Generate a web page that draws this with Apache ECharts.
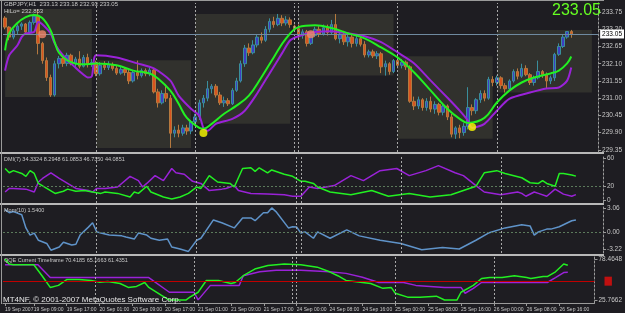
<!DOCTYPE html>
<html>
<head>
<meta charset="utf-8">
<script src="https://cdn.jsdelivr.net/npm/echarts@6/dist/echarts.min.js"></script>
<style>
html, body { margin: 0; padding: 0; background: #1e1d22; }
#main { width: 625px; height: 313px; }
</style>
</head>
<body>
<div id="main"></div>
<script>
// hourly bars, 19 Sep 02:00 .. 26 Sep 18:00 (+ empty slots to end of day)
var barCount = 144;
var tickIdx = [0, 7, 15, 23, 31, 39, 47, 55, 63, 71, 79, 87, 95, 103, 111, 119, 127, 135];
var tickText = ['19 Sep 2007', '19 Sep 09:00', '19 Sep 17:00', '20 Sep 01:00', '20 Sep 09:00', '20 Sep 17:00',
    '21 Sep 01:00', '21 Sep 09:00', '21 Sep 17:00', '24 Sep 00:00', '24 Sep 08:00', '24 Sep 16:00',
    '25 Sep 00:00', '25 Sep 08:00', '25 Sep 16:00', '26 Sep 00:00', '26 Sep 08:00', '26 Sep 16:00'];
var dayStarts = [22, 46, 70, 71, 95, 119];

// [open, close, low, high]
var day19 = [[233.56,233.27,233.20,233.62],[233.27,232.95,232.85,233.30],[232.95,233.15,232.88,233.22],[233.15,233.30,233.05,233.36],
    [233.30,233.37,233.18,233.42],[233.37,233.11,233.05,233.40],[233.11,233.42,233.08,233.48],[233.42,233.62,233.35,233.70],
    [233.62,232.75,232.40,233.84],[232.75,232.20,232.10,232.80],[232.20,231.66,231.55,232.30],[231.66,231.10,231.04,231.75],
    [231.10,232.10,231.05,232.20],[232.10,232.27,231.95,232.35],[232.27,232.11,232.00,232.38],[232.11,232.37,232.02,232.45],
    [232.37,232.10,232.05,232.42],[232.10,232.25,232.00,232.32],[232.25,232.02,231.95,232.50],[232.02,232.30,231.98,232.38],
    [232.30,232.08,231.98,232.42],[232.08,232.14,232.00,232.25]];
var day20 = [[232.14,231.78,231.70,232.20],[231.78,232.05,231.72,232.15],[232.05,231.98,231.90,232.18],[231.98,232.08,231.90,232.18],
    [232.08,231.95,231.88,232.14],[231.95,231.80,231.74,232.06],[231.80,231.92,231.75,232.00],[231.92,231.82,231.72,231.98],
    [231.82,231.55,231.45,231.92],[231.55,231.82,231.50,231.88],[231.82,231.72,231.60,232.20],[231.72,231.88,231.66,231.95],
    [231.88,231.78,231.70,231.95],[231.78,231.90,231.70,231.98],[231.90,231.20,231.15,231.95],[231.20,230.85,230.70,231.30],
    [230.85,231.15,230.80,231.25],[231.15,231.00,230.88,231.40],[231.00,229.88,229.41,231.10],[229.88,229.98,229.75,230.10],
    [229.98,229.88,229.75,230.15],[229.88,230.05,229.80,230.15],[230.05,229.95,229.83,230.15],[229.95,230.25,229.85,230.30]];
var day21 = [[230.25,230.40,230.18,230.50],[230.40,230.85,230.30,230.95],[230.85,231.00,230.70,231.10],[231.00,231.30,230.90,231.55],
    [231.30,231.38,231.15,231.45],[231.38,231.10,231.02,231.45],[231.10,230.85,230.78,231.20],[230.85,230.92,230.72,231.05],
    [230.92,230.82,230.75,231.00],[230.82,231.25,230.78,231.32],[231.25,231.55,231.20,231.65],[231.55,232.10,231.50,232.20],
    [232.10,232.60,232.00,232.70],[232.60,232.45,232.35,232.75],[232.45,232.70,232.40,232.85],[232.70,232.95,232.62,233.05],
    [232.95,232.85,232.75,233.10],[232.85,233.20,232.80,233.30],[233.20,233.45,233.10,233.55],[233.45,233.35,233.25,233.60],
    [233.35,233.55,233.30,233.69],[233.55,233.40,233.30,233.65],[233.40,233.50,233.32,233.62],[233.50,233.35,233.25,233.58]];
var sun23 = [[233.30,233.22,233.12,233.35]];
var day24 = [[233.22,233.00,232.90,233.35],[233.00,233.12,232.90,233.20],[233.12,232.75,232.65,233.18],[232.75,233.00,232.70,233.10],
    [233.00,233.20,232.95,233.28],[233.20,233.05,232.95,233.30],[233.05,233.25,233.00,233.35],[233.25,233.10,233.00,233.35],
    [233.10,233.35,233.05,233.50],[233.35,232.90,232.85,233.69],[232.90,233.05,232.75,233.15],[233.05,232.80,232.70,233.15],
    [232.80,232.95,232.65,233.05],[232.95,232.75,232.62,233.05],[232.75,232.90,232.65,233.00],[232.90,232.72,232.65,233.00],
    [232.72,232.38,232.30,232.82],[232.38,232.48,232.30,232.55],[232.48,232.35,232.28,232.55],[232.35,232.42,232.25,232.50],
    [232.42,232.00,231.80,232.48],[232.00,232.10,231.72,232.20],[232.10,231.85,231.75,232.15],[231.85,232.20,231.80,232.25]];
var day25 = [[232.20,232.05,231.95,232.34],[232.05,232.15,231.95,232.25],[232.15,232.00,231.90,232.20],[232.00,230.90,230.85,232.05],
    [230.90,230.75,230.62,231.05],[230.75,230.95,230.65,231.05],[230.95,230.70,230.60,231.00],[230.70,230.90,230.60,231.00],
    [230.90,230.65,230.55,231.05],[230.65,230.80,230.50,230.90],[230.80,230.55,230.45,230.85],[230.55,230.75,230.45,230.85],
    [230.75,230.40,230.30,230.80],[230.40,229.85,229.75,230.50],[229.85,230.05,229.70,230.10],[230.05,229.90,229.72,230.15],
    [229.90,230.10,229.80,230.20],[230.10,230.70,230.00,231.35],[230.70,230.60,230.45,230.80],[230.60,230.95,230.50,231.00],
    [230.95,231.15,230.85,231.25],[231.15,231.00,230.90,231.25],[231.00,231.60,230.95,231.68],[231.60,231.50,231.38,231.70]];
var day26 = [[231.50,231.65,231.40,231.72],[231.65,231.40,231.30,231.70],[231.40,231.30,231.18,231.48],[231.30,231.55,231.25,231.60],
    [231.55,231.85,231.50,231.92],[231.85,231.70,231.60,231.95],[231.70,231.95,231.65,232.10],[231.95,231.75,231.70,232.05],
    [231.75,231.50,231.42,231.80],[231.50,231.65,231.40,231.72],[231.65,231.85,231.60,232.20],[231.85,231.75,231.65,231.90],
    [231.75,231.55,231.30,231.82],[231.55,231.65,231.45,231.72],[231.65,232.40,231.55,232.45],[232.40,232.65,232.35,232.75],
    [232.65,232.95,232.60,233.05],[232.95,233.13,232.90,233.14],[233.13,233.05,232.93,233.18]];

// daily high/low boxes
var boxStart = [0, 22, 46, 71, 95, 119];
var boxEnd = [21, 45, 69, 94, 118, 142];
var boxHigh = [233.85, 232.21, 233.69, 233.69, 232.34, 233.18];
var boxLow = [231.04, 229.41, 230.18, 231.72, 229.70, 231.18];

// [bar, price]
var maFast = [[0,232.53],[1,233.07],[3,233.40],[5,233.59],[7,233.66],[9,233.56],[11,233.17],[12,232.79],[13,232.46],[15,232.21],
    [17,232.11],[19,232.08],[22,232.11],[27,232.05],[31,231.88],[35,231.79],[37,231.63],[40,231.24],[42,230.82],[44,230.37],
    [47,230.05],[48,230.02],[50,230.18],[53,230.50],[56,230.76],[59,231.08],[62,231.66],[65,232.30],[68,232.91],[71,233.27],
    [75,233.33],[79,233.24],[83,233.07],[87,232.91],[91,232.62],[95,232.30],[99,231.82],[103,231.24],[107,230.66],[110,230.34],
    [112,230.21],[116,230.37],[119,230.86],[122,231.24],[125,231.50],[128,231.66],[132,231.79],[134,231.88],[136,232.11],[137,232.33]];
var maSlow = [[0,231.88],[1,232.37],[3,232.69],[4,232.95],[5,233.07],[7,233.11],[8,233.43],[9,233.36],[11,233.07],[12,232.75],
    [14,232.37],[17,231.98],[19,231.75],[20,231.66],[21,231.70],[22,232.37],[27,232.30],[32,232.11],[36,231.95],[40,231.56],
    [42,231.08],[45,230.66],[47,230.44],[48,230.05],[49,229.96],[51,230.18],[55,230.34],[58,230.60],[61,231.15],[64,231.79],
    [67,232.43],[69,232.85],[71,232.98],[75,233.11],[79,233.14],[83,233.07],[87,232.98],[91,232.79],[95,232.46],[99,232.11],
    [103,231.56],[107,231.02],[110,230.60],[112,230.28],[113,230.05],[116,230.18],[119,230.60],[122,230.98],[127,231.18],
    [131,231.31],[134,231.34],[136,231.56],[137,231.98]];
var peakDots = [[9, 233.04], [74, 233.04]];
var troughDots = [[48, 229.89], [113, 230.08]];

var dmiPlus = [[0,45],[1,39],[2,42],[4,38],[5,34],[6,42],[7,38],[8,24],[10,17],[12,10],[14,13],[15,16],[17,13],[19,14],[21,12],
    [23,10],[24,12],[27,10],[30,5],[31,12],[32,10],[34,20],[35,12],[38,5],[40,2],[42,5],[44,10],[46,19],[47,17],[49,35],
    [51,26],[54,24],[55,19],[57,45],[59,46],[60,41],[61,46],[63,39],[64,43],[67,37],[69,34],[71,27],[72,27],[74,24],[75,19],
    [78,12],[83,8],[88,14],[92,6],[97,10],[102,5],[107,8],[110,14],[113,20],[115,39],[118,42],[120,38],[124,32],[126,25],
    [128,24],[129,28],[130,24],[132,20],[133,38],[134,38],[136,36],[137,34.3]];
var dmiMinus = [[0,12],[1,17],[2,17],[5,16],[7,12],[8,26],[9,31],[11,39],[13,31],[15,24],[17,17],[20,14],[21,12],[22,17],
    [24,17],[27,19],[30,34],[32,28],[33,19],[34,24],[36,35],[38,28],[40,45],[41,39],[43,37],[45,27],[47,24],[49,14],[52,16],
    [53,17],[55,21],[56,14],[59,10],[63,9],[67,8],[69,6],[71,6],[73,19],[75,17],[79,21],[83,35],[86,28],[90,42],[94,45],
    [97,35],[101,42],[104,49],[108,39],[110,35],[113,21],[115,12],[119,8],[123,12],[124,10],[125,6],[127,12],[128,10],
    [130,6],[132,16],[134,9],[136,6],[137,8.3]];
var momVals = [[0,2.85],[1,2.45],[2,2.6],[4,2.2],[5,0.55],[6,-0.35],[7,-0.1],[8,-1.0],[10,-1.4],[11,-2.25],[13,-1.85],
    [14,-1.25],[16,-1.6],[17,-1.5],[18,-0.35],[20,0.65],[21,1.2],[22,0.05],[23,-0.1],[25,-0.35],[28,-0.45],[29,-0.6],
    [31,-0.85],[32,-0.1],[34,-0.35],[35,-0.75],[37,-1.0],[39,-0.85],[40,-1.85],[42,-2.1],[44,-2.4],[46,-1.0],[47,-0.75],
    [50,1.55],[52,1.2],[55,0.55],[57,1.8],[59,1.8],[60,1.45],[62,2.45],[63,2.45],[64,3.06],[65,2.6],[68,0.55],[69,0.7],
    [70,0.65],[71,-0.1],[72,0.05],[74,-0.75],[75,0.05],[78,-0.75],[82,0.3],[85,-0.45],[90,-1.0],[95,-1.4],[100,-2.2],
    [105,-1.9],[109,-2.1],[113,-1.0],[116,-0.1],[120,0.55],[124,0.95],[126,0.8],[127,-0.35],[128,0.05],[130,0.4],
    [131,0.4],[133,0.7],[135,1.2],[136,1.45],[137,1.54]];
var qqeFast = [[0,78.5],[1,72],[2,71],[7,71],[9,57],[11,42],[13,44.6],[15,52],[18,52],[21,51],[23,48.5],[25,49.6],[28,47],
    [30,42],[32,43.3],[34,48.3],[35,42],[38,32],[40,25.8],[44,25.8],[45,29.5],[47,35.8],[49,50.9],[52,50.9],[55,47],
    [56,48.3],[58,57],[61,66],[64,70],[68,72],[72,71],[76,68],[79,62],[81,57],[83,51],[89,47],[92,40.8],[94,42],[95,34.5],
    [98,29.5],[101,29.5],[105,30.8],[107,25.8],[110,25.8],[111,35.8],[114,44.6],[116,53.4],[118,54.6],[121,54.6],[124,57],
    [127,54.6],[128,53.4],[131,55.9],[132,55.9],[134,62],[136,72],[137,70.4]];
var qqeSlow = [[0,71],[8,71],[11,54.6],[35,54.6],[40,35.8],[46,35.8],[47,26],[50,44.6],[57,44.6],[58,57],[62,62],[66,64],
    [72,64],[79,62],[83,60],[87,55],[91,48.3],[97,48.3],[100,44.6],[107,42],[111,42],[112,34.5],[114,40.8],[116,48.3],
    [132,48.3],[134,54.6],[136,61],[137,61.4]];

var priceTicks = [229.35, 229.90, 230.45, 231.00, 231.55, 232.10, 232.65, 233.20, 233.75];
var dmiTicks = [60, 20, 0];
var momTickVals = [3.06, 0, -2.1];
var momTickText = ['3.06', '0.00', '-3.22'];
var qqeTicks = [78.4648, 25.7662];
var lastPrice = 233.05;

var candles = [].concat(day19, day20, day21, sun23, day24, day25, day26);
var cats = [];
for (var i = 0; i < barCount; i++) cats.push(String(i));

var font = 'Liberation Sans';
var labelColor = '#c8c8c8';
var showTick = function (i) { return tickIdx.indexOf(i) >= 0; };

function xAxisFor(grid, bottom) {
    return {
        type: 'category', gridIndex: grid, data: cats, boundaryGap: true,
        axisLine: { show: bottom, lineStyle: { color: '#9a9a9a' } },
        axisTick: { show: bottom, interval: showTick, alignWithLabel: true, length: 3, lineStyle: { color: '#9a9a9a' } },
        axisLabel: {
            show: bottom, interval: showTick, align: 'left', fontSize: 5, color: labelColor, margin: 4, fontFamily: font,
            showMinLabel: true, showMaxLabel: true, hideOverlap: false,
            formatter: function (v, idx) { return tickText[tickIdx.indexOf(idx)]; }
        },
        splitLine: { show: false }
    };
}
function yAxisFor(grid, min, max, ticks, fmt) {
    return {
        type: 'value', gridIndex: grid, position: 'right', min: min, max: max, scale: true,
        axisLine: { show: true, lineStyle: { color: '#9a9a9a', type: [2, 2] } },
        axisTick: { show: true, customValues: ticks, length: 3, lineStyle: { color: '#9a9a9a' } },
        axisLabel: { customValues: ticks, formatter: fmt, fontSize: 6.5, color: labelColor, margin: 4, fontFamily: font },
        splitLine: { show: false }
    };
}
function dayLines(extra) {
    var d = dayStarts.map(function (i) { return { xAxis: i }; });
    return {
        silent: true, symbol: ['none', 'none'], animation: false,
        label: { show: false },
        lineStyle: { color: '#a8a8a8', type: [2, 2], width: 1 },
        data: d.concat(extra || [])
    };
}
var levelStyle = { color: '#5c7a5c', type: [2, 2], width: 1 };

var boxes = boxStart.map(function (s, k) {
    return [{ xAxis: s, yAxis: boxHigh[k] }, { xAxis: boxEnd[k], yAxis: boxLow[k] }];
});

var chart = echarts.init(document.getElementById('main'));
chart.setOption({
    animation: false,
    backgroundColor: '#1e1d22',
    textStyle: { fontFamily: font },
    title: [
        { text: 'GBPJPY,H1  233.13 233.18 232.93 233.05', left: 4, top: 1, padding: 0, textStyle: { fontSize: 6, color: labelColor, fontWeight: 'normal' } },
        { text: 'HiLo= 232.853', left: 4, top: 8, padding: 0, textStyle: { fontSize: 6, color: labelColor, fontWeight: 'normal' } },
        { text: '233.05', right: 24, top: 3, padding: 0, textStyle: { fontSize: 16, color: '#66ff22', fontWeight: 'normal' } },
        { text: 'DMI(7) 34.3324 8.2948 61.0853 46.7350 44.0851', left: 4, top: 156, padding: 0, textStyle: { fontSize: 5.5, color: labelColor, fontWeight: 'normal' } },
        { text: 'Mom(10) 1.5400', left: 4, top: 207, padding: 0, textStyle: { fontSize: 5.5, color: labelColor, fontWeight: 'normal' } },
        { text: 'QQE Current Timeframe 70.4185 65.1663 61.4351', left: 4, top: 257, padding: 0, textStyle: { fontSize: 5.5, color: labelColor, fontWeight: 'normal' } },
        { text: 'MT4NF, \u00a9 2001-2007 MetaQuotes Software Corp.', left: 3, top: 296, padding: 0, textStyle: { fontSize: 8, color: '#e6e6e6', fontWeight: 'normal' } }
    ],
    graphic: [
        { type: 'rect', shape: { x: 0, y: 152, width: 604, height: 2 }, style: { fill: '#b8b8b8' }, silent: true },
        { type: 'rect', shape: { x: 0, y: 203, width: 604, height: 2 }, style: { fill: '#b8b8b8' }, silent: true },
        { type: 'rect', shape: { x: 0, y: 254, width: 604, height: 2 }, style: { fill: '#b8b8b8' }, silent: true },
        { type: 'line', shape: { x1: 1.5, y1: 0, x2: 1.5, y2: 304 }, style: { stroke: '#9a9a9a', lineWidth: 1 }, silent: true },
        { type: 'line', shape: { x1: 0, y1: 0.5, x2: 604, y2: 0.5 }, style: { stroke: '#9a9a9a', lineWidth: 1 }, silent: true }
    ],
    grid: [
        { left: 3, right: 22, top: 3, height: 149 },
        { left: 3, right: 22, top: 155, height: 48 },
        { left: 3, right: 22, top: 206, height: 47 },
        { left: 3, right: 22, top: 257, height: 46 }
    ],
    xAxis: [xAxisFor(0, false), xAxisFor(1, false), xAxisFor(2, false), xAxisFor(3, true)],
    yAxis: [
        yAxisFor(0, 229.28, 234.04, priceTicks, function (v) { return v.toFixed(2); }),
        yAxisFor(1, -3.5, 64, dmiTicks, function (v) { return String(v); }),
        yAxisFor(2, -2.6, 3.3, momTickVals, function (v) { return momTickText[momTickVals.indexOf(v)]; }),
        yAxisFor(3, 22, 81, qqeTicks, function (v) { return v.toFixed(4); })
    ],
    series: [
        {
            type: 'line', xAxisIndex: 0, yAxisIndex: 0, data: [], z: 1, silent: true,
            markArea: { silent: true, itemStyle: { color: '#31312d', opacity: 1 }, data: boxes }
        },
        {
            type: 'candlestick', xAxisIndex: 0, yAxisIndex: 0, data: candles, barWidth: 3, z: 3,
            itemStyle: { color: '#3d3dc4', color0: '#d9531e', borderColor: '#3a8f9c', borderColor0: '#b5793f', borderWidth: 1 },
            markLine: dayLines([{
                yAxis: lastPrice, lineStyle: { color: '#6f8aa0', type: 'solid', width: 1 },
                label: { show: true, position: 'end', formatter: '233.05', distance: 2, color: '#000', backgroundColor: '#ffffff', fontSize: 6.5, padding: [1, 2] }
            }])
        },
        { type: 'line', xAxisIndex: 0, yAxisIndex: 0, data: maSlow, smooth: 0.25, showSymbol: false, z: 4, lineStyle: { color: '#9a22d8', width: 2 } },
        { type: 'line', xAxisIndex: 0, yAxisIndex: 0, data: maFast, smooth: 0.4, showSymbol: false, z: 5, lineStyle: { color: '#22f022', width: 2 } },
        { type: 'scatter', xAxisIndex: 0, yAxisIndex: 0, data: peakDots, symbolSize: 8, z: 6, itemStyle: { color: '#f4876a' } },
        { type: 'scatter', xAxisIndex: 0, yAxisIndex: 0, data: troughDots, symbolSize: 8, z: 6, itemStyle: { color: '#ffff00' } },

        {
            type: 'line', xAxisIndex: 1, yAxisIndex: 1, data: dmiMinus, showSymbol: false, lineStyle: { color: '#9a22d8', width: 1.5 },
            markLine: dayLines([{ yAxis: 20, lineStyle: levelStyle }])
        },
        { type: 'line', xAxisIndex: 1, yAxisIndex: 1, data: dmiPlus, showSymbol: false, lineStyle: { color: '#22f022', width: 1.5 } },

        {
            type: 'line', xAxisIndex: 2, yAxisIndex: 2, data: momVals, showSymbol: false, lineStyle: { color: '#5f93c9', width: 1.5 },
            markLine: dayLines([{ yAxis: 0, lineStyle: levelStyle }])
        },

        {
            type: 'line', xAxisIndex: 3, yAxisIndex: 3, data: qqeSlow, showSymbol: false, lineStyle: { color: '#9a22d8', width: 1.5 },
            markLine: dayLines([{
                yAxis: 50, lineStyle: { color: '#c00000', type: 'solid', width: 1 },
                label: { show: true, position: 'end', formatter: ' ', distance: 10, backgroundColor: '#c01010', padding: [2, 3], fontSize: 5 }
            }])
        },
        { type: 'line', xAxisIndex: 3, yAxisIndex: 3, data: qqeFast, showSymbol: false, lineStyle: { color: '#22f022', width: 1.5 } }
    ]
});
</script>
</body>
</html>
